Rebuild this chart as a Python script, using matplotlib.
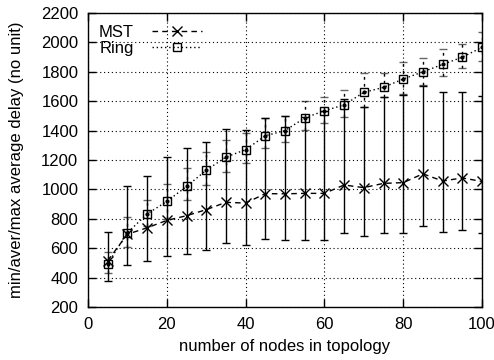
import matplotlib
matplotlib.use("Agg")
import matplotlib.pyplot as plt
import numpy as np

plt.rcParams["font.family"] = ["Liberation Sans", "DejaVu Sans"]

nodes = [5, 10, 15, 20, 25, 30, 35, 40, 45, 50, 55, 60, 65, 70, 75, 80, 85, 90, 95, 100]

mst_avg = [515, 695, 739, 789, 821, 862, 912, 907, 971, 970,
           973, 973, 1030, 1012, 1041, 1046, 1106, 1057, 1078, 1054]
mst_min = [374, 489, 510, 544, 558, 590, 632, 619, 662, 655,
           655, 655, 701, 685, 705, 703, 751, 710, 723, 702]
mst_max = [707, 1020, 1093, 1219, 1282, 1322, 1409, 1403, 1488, 1497,
           1490, 1535, 1615, 1558, 1629, 1644, 1705, 1663, 1660, 1637]

ring_avg = [495, 705, 833, 918, 1020, 1130, 1220, 1270, 1365, 1400,
            1486, 1535, 1575, 1660, 1694, 1751, 1800, 1850, 1900, 1966]
ring_min = [430, 610, 748, 800, 930, 1030, 1120, 1180, 1280, 1320,
            1405, 1450, 1490, 1561, 1629, 1650, 1711, 1770, 1824, 1871]
ring_max = [575, 815, 930, 1040, 1145, 1255, 1335, 1385, 1485, 1497,
            1600, 1630, 1673, 1795, 1795, 1866, 1893, 1954, 1990, 2068]

x = np.asarray(nodes, dtype=float)

fig = plt.figure(figsize=(4.94, 3.6), dpi=100)
ax = fig.add_axes([88 / 494, 53 / 360, 394 / 494, 294 / 360])

# MST: dashed line, x markers, solid error bars
m_avg = np.asarray(mst_avg, dtype=float)
mst_err = [m_avg - np.asarray(mst_min), np.asarray(mst_max) - m_avg]
ax.errorbar(x, m_avg, yerr=mst_err, fmt="none", ecolor="black",
            elinewidth=1.0, capsize=3, capthick=1.0, zorder=3)
ax.plot(x, m_avg, color="black", linestyle=(0, (4, 3)), linewidth=1.0,
        marker="x", markersize=7, markeredgewidth=1.0, label="MST", zorder=4)

# Ring: dotted line, square markers, dotted error bars
r_avg = np.asarray(ring_avg, dtype=float)
ring_err = [r_avg - np.asarray(ring_min), np.asarray(ring_max) - r_avg]
eb = ax.errorbar(x, r_avg, yerr=ring_err, fmt="none", ecolor="black",
                 elinewidth=1.0, capsize=3, capthick=1.0, zorder=3)
for c in eb[2]:
    c.set_linestyle((0, (2, 3)))
for c in eb[1]:
    c.set_alpha(0.6)
ax.plot(x, r_avg, color="black", linestyle=(0, (1, 2)), linewidth=1.0,
        marker="s", markersize=6, markerfacecolor="none",
        markeredgewidth=1.0, label="Ring", zorder=4)
ax.plot(x, r_avg, linestyle="none", marker=".", markersize=4,
        color="black", zorder=5)

ax.set_xlim(0, 100)
ax.set_ylim(200, 2200)
ax.set_xticks(np.arange(0, 101, 20))
ax.set_yticks(np.arange(200, 2201, 200))
ax.tick_params(direction="in", length=6, width=1, labelsize=12,
               top=True, right=True)
ax.tick_params(axis="x", pad=7)
ax.tick_params(axis="y", pad=7)
ax.grid(True, color="black", linestyle=(0, (1, 2.5)), linewidth=0.8)
for s in ax.spines.values():
    s.set_linewidth(1.0)

ax.set_xlabel("number of nodes in topology", fontsize=12, labelpad=5)
ax.set_ylabel("min/aver/max average delay (no unit)", fontsize=12, labelpad=12)

ax.legend(loc="upper left", bbox_to_anchor=(0.028, 0.96), frameon=False,
          markerfirst=False, fontsize=12, handlelength=3.0,
          handletextpad=1.1, labelspacing=0.05, borderpad=0,
          borderaxespad=0)

fig.savefig("out.png", dpi=100)
plt.close(fig)
